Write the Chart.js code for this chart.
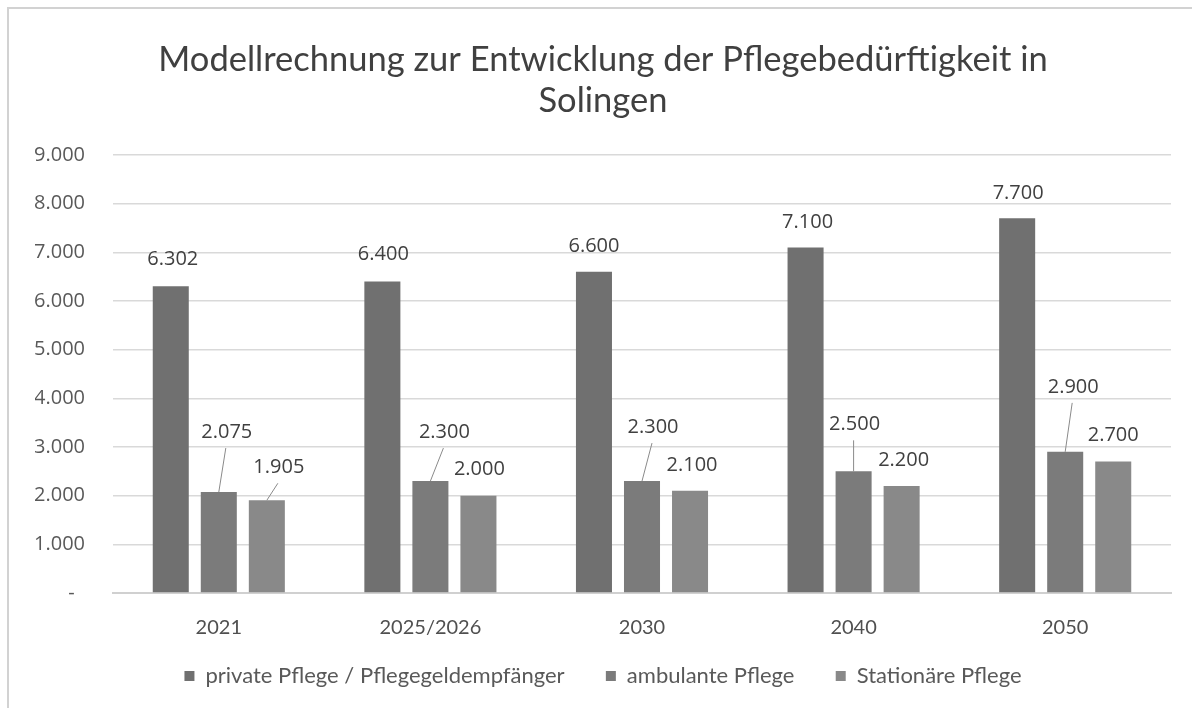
<!DOCTYPE html>
<html>
<head>
<meta charset="utf-8">
<script src="https://cdn.jsdelivr.net/npm/chart.js@4.4.1/dist/chart.umd.min.js"></script>
<style>
  body { margin: 0; background: #fff; overflow: hidden; }
  #rahmen { position: absolute; left: 7px; top: 7px; width: 1300px; height: 800px;
            border-top: 2px solid #d2d2d2; border-left: 2px solid #d2d2d2; }
  #wrap { position: absolute; left: 0; top: 0; width: 1192px; height: 708px; }
</style>
</head>
<body>
<div id="rahmen"></div>
<div id="wrap"><canvas id="myChart" width="1192" height="708"></canvas></div>
<script>
// Jahre / Kategorien
const jahre = ['2021', '2025/2026', '2030', '2040', '2050'];

// Werte pro Reihe
const privatePflege = [6302, 6400, 6600, 7100, 7700];
const ambulantePflege = [2075, 2300, 2300, 2500, 2900];
const stationaerePflege = [1905, 2000, 2100, 2200, 2700];

const reihenNamen = ['private Pflege / Pflegegeldempfänger', 'ambulante Pflege', 'Stationäre Pflege'];
const farben = ['#707070', '#7b7b7b', '#898989'];

// wo die Beschriftung sitzt (dx, dy zum Balkenkopf), nur Optik
const labelVersatz = [
    [[2, -27], [1, -27], [0, -26], [2, -25], [1, -25]],
    [[8, -60], [14, -49], [11, -54], [1, -47], [8, -65]],
    [[12, -33], [1, -26], [2, -26], [2, -26], [0, -26]]
];

//Zahl mit Punkt als Tausender
function deutsch(n) {
    return String(n).replace(/\B(?=(\d{3})+(?!\d))/g, '.');
}

// zeichnet die Werte ueber die Balken, mit Linie wenn weit weg
const wertePlugin = {
    id: 'werte',
    afterDatasetsDraw(chart) {
        const ctx = chart.ctx;
        ctx.save();
        ctx.font = '20px "Open Sans"';
        ctx.textAlign = 'center';
        ctx.textBaseline = 'middle';
        chart.data.datasets.forEach((ds, i) => {
            chart.getDatasetMeta(i).data.forEach((bar, j) => {
                const v = labelVersatz[i][j];
                const lx = bar.x + v[0];
                const ly = bar.y + v[1];
                if (v[1] < -30) {
                    ctx.strokeStyle = '#8a8a8a';
                    ctx.lineWidth = 1;
                    ctx.beginPath();
                    ctx.moveTo(bar.x, bar.y);
                    ctx.lineTo(lx - 1, ly + 16);
                    ctx.stroke();
                }
                ctx.fillStyle = '#404040';
                ctx.fillText(deutsch(ds.data[j]), lx, ly);
            });
        });
        ctx.restore();
    }
};

const data = {
    labels: jahre,
    datasets: [
        { label: reihenNamen[0], data: privatePflege, backgroundColor: farben[0] },
        { label: reihenNamen[1], data: ambulantePflege, backgroundColor: farben[1] },
        { label: reihenNamen[2], data: stationaerePflege, backgroundColor: farben[2] }
    ]
};

const config = {
    type: 'bar',
    data: data,
    plugins: [wertePlugin],
    options: {
        responsive: false,
        devicePixelRatio: 1,
        animation: false,
        categoryPercentage: 0.681,
        barPercentage: 0.75,
        layout: { padding: { left: 35, right: 21, top: 0, bottom: 11 } },
        plugins: {
            tooltip: { enabled: false },
            title: {
                display: true,
                text: ['Modellrechnung zur Entwicklung der Pflegebedürftigkeit in', 'Solingen'],
                color: '#404040',
                font: { family: 'Lato', size: 34.5, weight: 'normal', lineHeight: 41 / 34.5 },
                padding: { top: 39.5, bottom: 33.5 }
            },
            legend: {
                position: 'bottom',
                labels: {
                    color: '#595959',
                    font: { family: 'Lato', size: 22 },
                    boxWidth: 10,
                    boxHeight: 10,
                    padding: 22,
                    // etwas mehr Abstand zwischen den Eintraegen
                    generateLabels: chart => {
                        const std = Chart.defaults.plugins.legend.labels.generateLabels(chart);
                        std.forEach((l, k) => { if (k < std.length - 1) l.text = l.text + '\u2003\u2009'; });
                        return std;
                    }
                }
            }
        },
        scales: {
            x: {
                afterFit: s => { s.height = 50; },
                grid: { display: false },
                border: { display: true, color: '#d0d0d0', width: 2 },
                ticks: { color: '#505050', font: { family: 'Lato', size: 20 }, padding: 15 }
            },
            y: {
                min: 0,
                max: 9000,
                afterFit: s => { s.width = 78; },
                grid: { color: '#d9d9d9', lineWidth: 1.5, drawTicks: false },
                border: { display: false },
                ticks: {
                    stepSize: 1000,
                    padding: 28,
                    color: '#595959',
                    font: { family: 'Open Sans', size: 20 },
                    callback: v => v === 0 ? '-  ' : deutsch(v)
                }
            }
        }
    }
};

const myChart = new Chart(document.getElementById('myChart'), config);
</script>
</body>
</html>
